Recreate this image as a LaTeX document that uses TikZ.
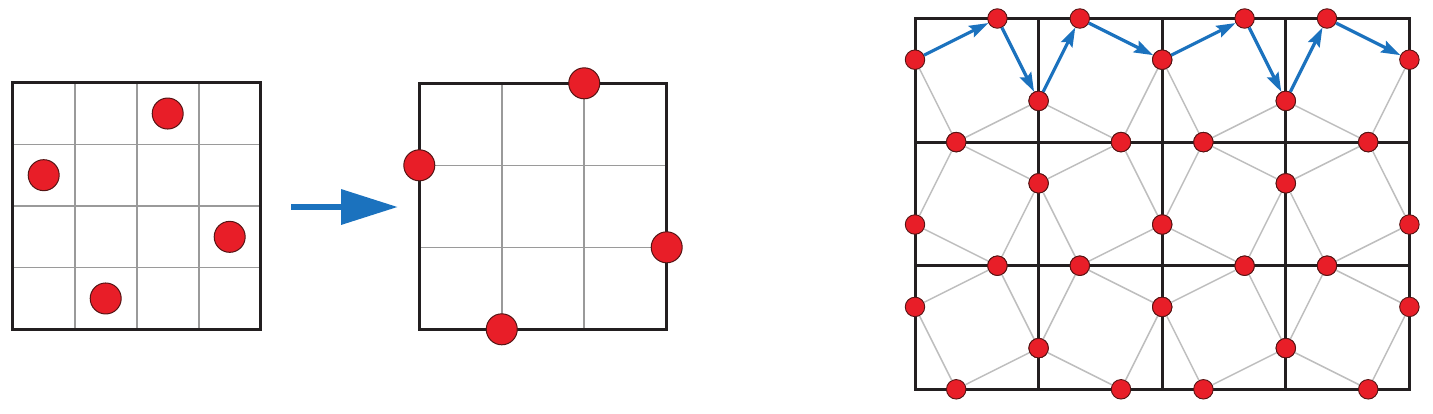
\documentclass[tikz,border=0pt]{standalone}
\usetikzlibrary{arrows.meta}
\definecolor{dotred}{HTML}{E81E28}
\definecolor{dotedge}{HTML}{551414}
\definecolor{arrblue}{HTML}{1B72BE}
\definecolor{gridblack}{HTML}{231F20}
\definecolor{thingray}{HTML}{9A9A9A}
\definecolor{tilegray}{HTML}{BEBEBE}
\begin{document}
\begin{tikzpicture}[x=1pt,y=-1pt,
  bigdot/.style={circle,fill=dotred,draw=dotedge,line width=1pt,minimum size=31pt,inner sep=0pt},
  smalldot/.style={circle,fill=dotred,draw=dotedge,line width=0.9pt,minimum size=19.5pt,inner sep=0pt},
  frame/.style={draw=gridblack,line width=3pt},
  fine/.style={draw=thingray,line width=1.6pt},
  tileline/.style={draw=tilegray,line width=1.5pt},
  bluearrow/.style={draw=arrblue,line width=3.2pt,-{Stealth[length=19pt,width=12.5pt,inset=3pt]}},
]
\useasboundingbox (0,0) rectangle (1433,413);

% ---------- left square 4x4 ----------
\def\LX{12.7}\def\LY{82.7}\def\LW{248}\def\LH{246.6}
\foreach \k in {1,2,3}{
  \draw[fine] ({\LX+\k*\LW/4},\LY) -- ({\LX+\k*\LW/4},{\LY+\LH});
  \draw[fine] (\LX,{\LY+\k*\LH/4}) -- ({\LX+\LW},{\LY+\k*\LH/4});
}
\draw[frame] (\LX,\LY) rectangle ({\LX+\LW},{\LY+\LH});
\node[bigdot] (ld1) at ({\LX+2.5*\LW/4},{\LY+0.5*\LH/4}) {};
\node[bigdot] (ld2) at ({\LX+0.5*\LW/4},{\LY+1.5*\LH/4}) {};
\node[bigdot] (ld3) at ({\LX+3.5*\LW/4},{\LY+2.5*\LH/4}) {};
\node[bigdot] (ld4) at ({\LX+1.5*\LW/4},{\LY+3.5*\LH/4}) {};

% ---------- big arrow ----------
\coordinate (arrS) at (291,207);
\coordinate (arrE) at (398,207);
\draw[draw=arrblue,line width=6.7pt,-{Triangle[length=57pt,width=34pt]}] (arrS) -- (arrE);

% ---------- middle square 3x3 ----------
\def\MX{419.3}\def\MY{83.3}\def\MW{247.4}\def\MH{246}
\foreach \k in {1,2}{
  \draw[fine] ({\MX+\k*\MW/3},\MY) -- ({\MX+\k*\MW/3},{\MY+\MH});
  \draw[fine] (\MX,{\MY+\k*\MH/3}) -- ({\MX+\MW},{\MY+\k*\MH/3});
}
\draw[frame] (\MX,\MY) rectangle ({\MX+\MW},{\MY+\MH});
\node[bigdot] (md1) at ({\MX+2*\MW/3},\MY) {};
\node[bigdot] (md2) at (\MX,{\MY+\MH/3}) {};
\node[bigdot] (md3) at ({\MX+\MW},{\MY+2*\MH/3}) {};
\node[bigdot] (md4) at ({\MX+\MW/3},{\MY+\MH}) {};

% ---------- right tiling 4x3 ----------
\def\RX{915}\def\RY{18.5}\def\RS{123.6}
\foreach \k in {1,2,3}{
  \draw[frame] ({\RX+\k*\RS},\RY) -- ({\RX+\k*\RS},{\RY+3*\RS});
}
\foreach \k in {1,2}{
  \draw[frame] (\RX,{\RY+\k*\RS}) -- ({\RX+4*\RS},{\RY+\k*\RS});
}
\draw[frame] (\RX,\RY) rectangle ({\RX+4*\RS},{\RY+3*\RS});

\foreach \i in {0,...,3}{
  \foreach \j in {0,1,2}{
    \pgfmathtruncatemacro\f{mod(\i+\j,2)}
    \pgfmathsetmacro\a{2/3-\f/3}
    \pgfmathsetmacro\c{1/3+\f/3}
    \pgfmathsetmacro\X{\RX+\i*\RS}
    \pgfmathsetmacro\Y{\RY+\j*\RS}
    \node[smalldot] (t\i\j) at ({\X+\a*\RS},\Y) {};
    \node[smalldot] (l\i\j) at (\X,{\Y+\c*\RS}) {};
    \node[smalldot] (r\i\j) at ({\X+\RS},{\Y+\a*\RS}) {};
    \node[smalldot] (b\i\j) at ({\X+\c*\RS},{\Y+\RS}) {};
    \draw[tileline] (l\i\j) -- (b\i\j);
    \draw[tileline] (b\i\j) -- (r\i\j);
    \ifnum\j=0
      \draw[bluearrow] (l\i\j) -- (t\i\j);
      \draw[bluearrow] (t\i\j) -- (r\i\j);
    \else
      \draw[tileline] (l\i\j) -- (t\i\j);
      \draw[tileline] (t\i\j) -- (r\i\j);
    \fi
  }
}
\end{tikzpicture}
\end{document}
